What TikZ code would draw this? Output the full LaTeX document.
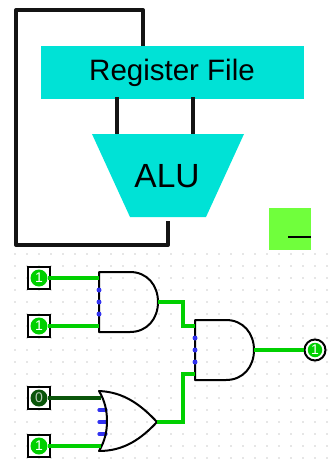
\documentclass[tikz,border=0pt]{standalone}
\usepackage{fontspec}
\setmainfont{Liberation Sans}
\usetikzlibrary{positioning}
\definecolor{tealfill}{RGB}{0,226,214}
\definecolor{limefill}{RGB}{112,255,60}
\definecolor{wireon}{RGB}{0,208,0}
\definecolor{wireoff}{RGB}{10,85,10}
\definecolor{portblue}{RGB}{50,50,240}
\tikzset{
  block/.style={fill=tealfill,inner sep=0pt},
  bus/.style={line width=4pt,line join=round,black!92},
  griddot/.style={fill=gray!85},
  gate/.style={line width=2pt,line join=round,black},
  port/.style={portblue,line width=3.2pt,line cap=round},
  on/.style={line width=3.5pt,wireon,line join=miter},
  off/.style={line width=3.5pt,wireoff},
  pinbox/.style={draw,line width=2pt,fill=white,minimum size=22.5pt,inner sep=0pt},
  pinhigh/.style={circle,fill=wireon,minimum size=17pt,inner sep=0pt,text=white,font=\fontsize{14}{14}\selectfont},
  pinlow/.style={circle,fill=wireoff,minimum size=17pt,inner sep=0pt,text=white!70!wireoff,font=\fontsize{14}{14}\selectfont},
  pinring/.style={circle,draw,line width=2pt,fill=white,minimum size=21pt,inner sep=0pt}
}
\begin{document}
\begin{tikzpicture}[x=1pt,y=-1pt]
  \useasboundingbox (0,0) rectangle (332,469);

  % upper part: register file and ALU
  \node[block,minimum width=263pt,minimum height=53pt] (regfile) at (172.5,72.5) {};
  \coordinate (alua) at (92,134); \coordinate (alub) at (244,134);
  \coordinate (aluc) at (206,217); \coordinate (alud) at (130,217);
  \fill[tealfill] (alua)--(alub)--(aluc)--(alud)--cycle;
  \node[font=\fontsize{29.5}{29.5}\selectfont] (regtext) at (172,73) {Register File};
  \node[font=\fontsize{33.5}{33.5}\selectfont] (alutext) at (167,176) {ALU};

  \coordinate (loopa) at (143,46); \coordinate (loopb) at (168,221);
  \coordinate (portl) at (117,97); \coordinate (portr) at (193,97);
  \draw[bus] (loopa)--(143,10)--(16,10)--(16,245)--(168,245)--(loopb);
  \draw[bus] (portl)--(117,134);
  \draw[bus] (portr)--(193,134);

  % corner box
  \node[fill=limefill,minimum size=42pt,inner sep=0pt] (corner) at (290,229) {};
  \coordinate (cornerm) at (288,237);
  \draw[line width=1.5pt] (cornerm)--(corner.east |- cornerm);

  % grid
  \foreach \i in {0,...,26}
    \foreach \j in {0,...,17}
      \fill[griddot] (15+12*\i,254+12*\j) circle (0.7pt);

  % gates
  \foreach \g/\x/\y in {anda/99/272,andb/195/320}{
    \begin{scope}[shift={(\x,\y)}]
      \draw[gate] (0,0)--(31,0) .. controls (48,0) and (59,13) .. (59,30)
        .. controls (59,47) and (48,60) .. (31,60)--(0,60)--cycle;
      \foreach \k in {18,30,42}
        \fill[portblue] (0,\k) circle (2.5pt);
      \coordinate (\g-top) at (0,6);
      \coordinate (\g-bot) at (0,54);
      \coordinate (\g-out) at (59,30);
    \end{scope}
  }
  \begin{scope}[shift={(99,391)}]
    \foreach \k in {19,31,43}
      \draw[port] (0,\k)--(7,\k);
    \draw[gate] (0,0) .. controls (6,10) and (8,20) .. (8,30) .. controls (8,40) and (6,50) .. (0,60)
      .. controls (25,60) and (42,48) .. (58,31) .. controls (42,14) and (25,1) .. (0,0)--cycle;
    \coordinate (or-top) at (2,7);
    \coordinate (or-bot) at (2,55);
    \coordinate (or-out) at (58,31);
  \end{scope}

  % inputs
  \foreach \n/\y/\s/\v in {a/278/pinhigh/1,b/326/pinhigh/1,c/398/pinlow/0,d/446/pinhigh/1}{
    \node[pinbox] (box\n) at (39,\y) {};
    \node[\s] (in\n) at (box\n) {\v};
  }
  \node[pinring] (ring) at (315,350) {};
  \node[pinhigh,minimum size=14.5pt] (result) at (ring) {1};

  % wires
  \draw[on] (ina)--(anda-top);
  \draw[on] (inb)--(anda-bot);
  \draw[off] (inc)--(or-top);
  \draw[on] (ind)--(or-bot);
  \draw[on] (anda-out)-|(183,326)--(andb-top);
  \draw[on] (or-out)-|(183,374)--(andb-bot);
  \draw[on] (andb-out)--(ring);
\end{tikzpicture}
\end{document}
